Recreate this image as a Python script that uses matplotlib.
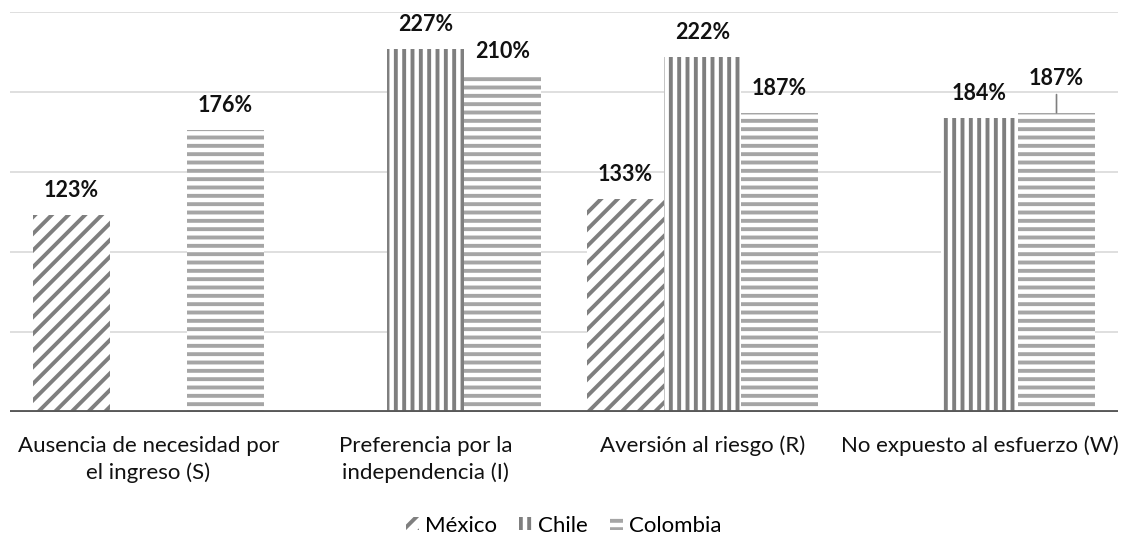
import numpy as np
import matplotlib
matplotlib.use("Agg")
from matplotlib import pyplot as plt

plt.rcParams['font.family'] = ['Lato', 'DejaVu Sans']
plt.rcParams['hatch.linewidth'] = 2.8

categories = ["Ausencia de necesidad por\nel ingreso (S)",
              "Preferencia por la\nindependencia (I)",
              "Aversión al riesgo (R)",
              "No expuesto al esfuerzo (W)"]
series = ["México", "Chile", "Colombia"]
mexico = [123, np.nan, 133, np.nan]
chile = [np.nan, 227, 222, 184]
colombia = [176, 210, 187, 187]

hatches = ['//', '||', '--']
colors = ['#7f7f7f', '#7f7f7f', '#a5a5a5']

fig = plt.figure(figsize=(11.28, 5.37), dpi=100)
ax = fig.add_axes([10 / 1128, 1 - 412 / 537, 1108 / 1128, 400 / 537])

x = np.arange(len(categories))
w = 0.278
for i, (name, vals) in enumerate(zip(series, [mexico, chile, colombia])):
	pos = x + (i - 1) * w
	ax.bar(pos, vals, w, facecolor='white', edgecolor=colors[i],
	       linewidth=0, hatch=hatches[i], label=name, zorder=2)
	for j, v in enumerate(vals):
		if np.isnan(v):
			continue
		if i == 2 and j == 3:
			# label pushed up, with a leader line down to the bar
			ax.annotate(f"{v:.0f}%", xy=(pos[j], v), xytext=(0, 20),
			            textcoords='offset points', ha='center', va='baseline',
			            fontsize=15.5, fontweight='bold', color='#111111',
			            arrowprops=dict(arrowstyle='-', color='#7f7f7f', lw=1.2,
			                            shrinkA=2, shrinkB=0))
		else:
			ax.annotate(f"{v:.0f}%", xy=(pos[j], v), xytext=(0, 13),
			            textcoords='offset points', ha='center', va='baseline',
			            fontsize=15.5, fontweight='bold', color='#111111')

ax.set_xlim(-0.5, len(categories) - 0.5)
ax.set_ylim(0, 250)
ax.set_yticks([50, 100, 150, 200, 250])
ax.yaxis.grid(True, color='#d9d9d9', lw=1.2, zorder=0)
ax.set_axisbelow(True)
ax.tick_params(axis='y', length=0, labelleft=False)
ax.set_xticks(x)
ax.set_xticklabels(categories, fontsize=16, color='#111111', linespacing=1.4)
ax.tick_params(axis='x', length=0, pad=17)
for s in ax.spines.values():
	s.set_visible(False)
ax.axhline(0, color='#595959', lw=2.8, zorder=3)

fig.legend(loc='lower center', bbox_to_anchor=(0.5, -0.018), ncol=3, frameon=False,
           fontsize=16, handlelength=0.55, handleheight=0.55, handletextpad=0.3,
           columnspacing=1.0, borderaxespad=0.1)

fig.savefig("out.png", dpi=100)
plt.close()
